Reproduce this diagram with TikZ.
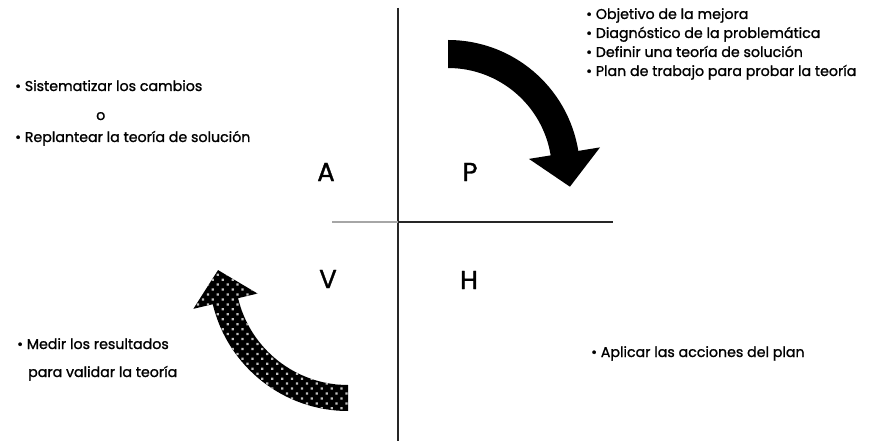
\documentclass[tikz,border=0pt]{standalone}
\usepackage{fontspec}
\setmainfont{Poppins}
\newfontfamily\heavyfont[FakeBold=1.2]{Poppins}
\usetikzlibrary{calc,patterns.meta}
\begin{document}
\begin{tikzpicture}[x=1pt,y=1pt,
  txt/.style={anchor=base west,inner sep=0pt,font=\heavyfont\fontsize{14.2}{17}\selectfont},
  letter/.style={inner sep=0pt,font=\heavyfont\fontsize{26}{30}\selectfont},
  axis/.style={draw=black!85,line width=1.3pt},
  faint/.style={draw=black!35,line width=1.1pt},
  solidarrow/.style={fill=black},
  dotarrow/.style={preaction={fill=black},pattern={Dots[distance=7pt,radius=1.6pt,angle=45]},pattern color=black!25}]
\path[use as bounding box,fill=white] (0,0) rectangle (877,-443);
% axes
\coordinate (vt) at (398,-8);
\coordinate (vb) at (398,-441);
\coordinate (hl) at (332,-222);
\coordinate (hc) at (398,-222);
\coordinate (hr) at (613,-222);
\draw[axis] (vt) -- (vb);
\draw[faint] (hl) -- (hc);
\draw[axis] (hc) -- (hr);
% letters
\node[letter] (A) at (326,-172) {A};
\node[letter] (P) at (470,-172) {P};
\node[letter] (V) at (328,-279) {V};
\node[letter] (H) at (469,-280) {H};
% top-right arrow (solid)
\coordinate (c1) at (448,-172);
\fill[solidarrow] ($(c1)+(90:132)$) arc[start angle=90,end angle=9.2,radius=132]
  -- ($(c1)+(9.2:154)$) -- ($(c1)+(9.2:118)+(-80.8:34)$) -- ($(c1)+(9.2:82)$)
  -- ($(c1)+(9.2:104)$) arc[start angle=9.2,end angle=90,radius=104] -- cycle;
% bottom-left arrow (dotted)
\coordinate (c2) at (348,-272);
\path[dotarrow] ($(c2)+(270:139)$) arc[start angle=270,end angle=193.4,radius=139]
  -- ($(c2)+(193.4:159)$) -- ($(c2)+(193.4:126)+(103.4:32)$) -- ($(c2)+(193.4:93)$)
  -- ($(c2)+(193.4:113)$) arc[start angle=193.4,end angle=270,radius=113] -- cycle;
% top-right texts
\node[txt] (p1) at (586,-19) {\textbullet\ Objetivo de la mejora};
\node[txt] (p2) at (586,-38) {\textbullet\ Diagnóstico de la problemática};
\node[txt] (p3) at (586,-57) {\textbullet\ Definir una teoría de solución};
\node[txt] (p4) at (586,-76) {\textbullet\ Plan de trabajo para probar la teoría};
% top-left texts
\node[txt] (a1) at (15,-91) {\textbullet\ Sistematizar los cambios};
\node[txt] (a2) at (96,-120) {o};
\node[txt] (a3) at (15,-142) {\textbullet\ Replantear la teoría de solución};
% bottom-left texts
\node[txt] (v1) at (17,-349) {\textbullet\ Medir los resultados};
\node[txt] (v2) at (28,-377) {para validar la teoría};
% bottom-right text
\node[txt] (h1) at (591,-357) {\textbullet\ Aplicar las acciones del plan};
\end{tikzpicture}
\end{document}
